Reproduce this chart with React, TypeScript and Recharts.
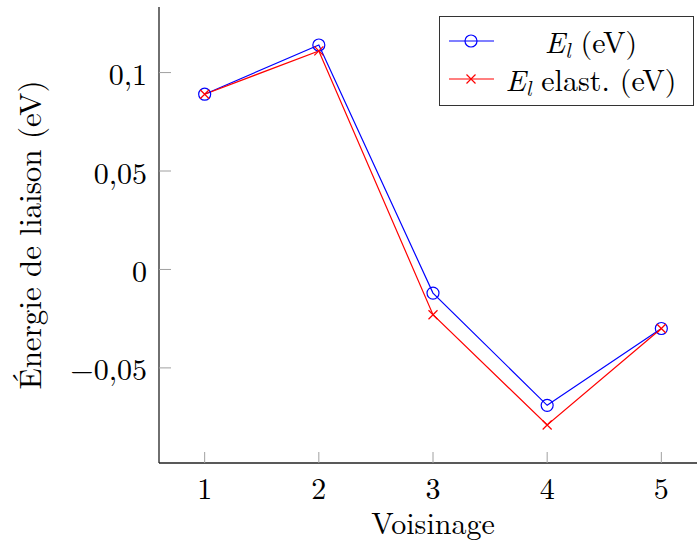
import { LineChart, Line, XAxis, YAxis } from 'recharts';

const voisinage = [1, 2, 3, 4, 5];
const el = [0.089, 0.114, -0.012, -0.069, -0.030];
const elElast = [0.089, 0.111, -0.023, -0.079, -0.030];
const xTicks = [1, 2, 3, 4, 5];
const yTicks = [-0.05, 0, 0.05, 0.1];

const data = voisinage.map((v, i) => ({ v, el: el[i], elElast: elElast[i] }));

// pgfplots-like "enlarge limits" of 10% of the data range
const enlarge = (vals: number[]): [number, number] => {
    const lo = Math.min(...vals);
    const hi = Math.max(...vals);
    const pad = (hi - lo) * 0.1;
    return [lo - pad, hi + pad];
};
const xDomain = enlarge(voisinage);
const yDomain = enlarge([...el, ...elElast]);

const FONT = "'Latin Modern Roman', 'Liberation Serif', serif";
const TICK_GRAY = '#a0a0a0';
const AXIS = '#222';

const fmtY = (v: number) =>
    v === 0 ? '0' : (v < 0 ? '\u2212' : '') + String(Math.abs(v)).replace('.', ',');

const BottomTick = (props: any) => {
    const { x, y, payload } = props;
    return (
        <g>
            <line x1={x} y1={y} x2={x} y2={y - 11} stroke={TICK_GRAY} strokeWidth={1} />
            <text x={x} y={y + 23} textAnchor="middle" dominantBaseline="central" fontFamily={FONT} fontSize={30} fill="#000">
                {payload.value}
            </text>
        </g>
    );
};

const TopTick = (props: any) => {
    const { x, y } = props;
    return <line x1={x} y1={y} x2={x} y2={y + 11} stroke={TICK_GRAY} strokeWidth={1} />;
};

const LeftTick = (props: any) => {
    const { x, y, payload } = props;
    return (
        <g>
            <line x1={x} y1={y} x2={x + 12} y2={y} stroke={TICK_GRAY} strokeWidth={1} />
            <text x={x - 12} y={y} textAnchor="end" dominantBaseline="central" fontFamily={FONT} fontSize={30} fill="#000">
                {fmtY(payload.value)}
            </text>
        </g>
    );
};

const RightTick = (props: any) => {
    const { x, y } = props;
    return <line x1={x} y1={y} x2={x - 12} y2={y} stroke={TICK_GRAY} strokeWidth={1} />;
};

const CircleDot = (props: any) => {
    const { cx, cy, index } = props;
    return <circle key={`c-${index}`} cx={cx} cy={cy} r={6} fill="none" stroke="#0000ff" strokeWidth={1.2} />;
};

const CrossDot = (props: any) => {
    const { cx, cy, index } = props;
    const s = 4.5;
    return (
        <path
            key={`x-${index}`}
            d={`M${cx - s},${cy - s}L${cx + s},${cy + s}M${cx - s},${cy + s}L${cx + s},${cy - s}`}
            stroke="#ff0000"
            strokeWidth={1.2}
            fill="none"
        />
    );
};

const El = () => (
    <>
        <i>E</i>
        <sub style={{ fontSize: '0.7em', fontStyle: 'italic', verticalAlign: '-0.25em', lineHeight: 0 }}>l</sub>
    </>
);

const legendItems = [
    { key: 'el', color: '#0000ff', marker: 'circle', label: <><El /> (eV)</> },
    { key: 'elElast', color: '#ff0000', marker: 'cross', label: <><El /> elast. (eV)</> },
];

const LegendBox = () => (
    <div
        style={{
            position: 'absolute',
            left: 439,
            top: 16,
            width: 255,
            height: 90,
            boxSizing: 'border-box',
            border: '1.3px solid #333',
            background: '#fff',
            fontFamily: FONT,
            fontSize: 30,
            paddingTop: 5,
        }}
    >
        {legendItems.map((it) => (
            <div key={it.key} style={{ display: 'flex', alignItems: 'center', height: 38 }}>
                <svg width={56} height={38} style={{ flex: 'none' }}>
                    <line x1={9} y1={19} x2={54} y2={19} stroke={it.color} strokeWidth={1.2} />
                    {it.marker === 'circle' ? (
                        <circle cx={31} cy={19} r={6} fill="none" stroke={it.color} strokeWidth={1.2} />
                    ) : (
                        <path d="M26.5,14.5L35.5,23.5M26.5,23.5L35.5,14.5" stroke={it.color} strokeWidth={1.2} />
                    )}
                </svg>
                <div style={{ width: 190, textAlign: 'center', whiteSpace: 'nowrap', lineHeight: '34px' }}>{it.label}</div>
            </div>
        ))}
    </div>
);

export default function App() {
    return (
        <div style={{ position: 'absolute', left: 0, top: 0, width: 697, height: 549, overflow: 'hidden', background: '#fff' }}>
            <LineChart width={720} height={549} data={data} margin={{ top: 7, right: 13, bottom: 0, left: 0 }}>
                <XAxis
                    dataKey="v"
                    type="number"
                    domain={xDomain}
                    allowDataOverflow
                    ticks={xTicks}
                    height={86}
                    tickLine={false}
                    tickSize={0}
                    tickMargin={0}
                    axisLine={{ stroke: AXIS, strokeWidth: 1.3 }}
                    tick={BottomTick}
                    interval={0}
                    label={{
                        value: 'Voisinage',
                        position: 'insideTop',
                        offset: 0,
                        content: ({ viewBox }: any) => (
                            <text x={viewBox.x + viewBox.width / 2} y={viewBox.y + 71} textAnchor="middle" fontFamily={FONT} fontSize={30} fill="#000">
                                Voisinage
                            </text>
                        ),
                    }}
                />
                <XAxis
                    xAxisId="top"
                    dataKey="v"
                    type="number"
                    orientation="top"
                    domain={xDomain}
                    allowDataOverflow
                    ticks={xTicks}
                    height={0}
                    tickLine={false}
                    tickSize={0}
                    tickMargin={0}
                    axisLine={{ stroke: AXIS, strokeWidth: 1.3 }}
                    tick={TopTick}
                    interval={0}
                />
                <YAxis
                    yAxisId="left"
                    type="number"
                    domain={yDomain}
                    allowDataOverflow
                    ticks={yTicks}
                    width={159}
                    tickLine={false}
                    tickSize={0}
                    tickMargin={0}
                    axisLine={{ stroke: AXIS, strokeWidth: 1.3 }}
                    tick={LeftTick}
                    interval={0}
                    label={{
                        value: 'Énergie de liaison (eV)',
                        position: 'insideLeft',
                        content: ({ viewBox }: any) => {
                            const cx = viewBox.x + 28;
                            const cy = viewBox.y + viewBox.height / 2;
                            return (
                                <text
                                    x={cx}
                                    y={cy}
                                    transform={`rotate(-90 ${cx} ${cy})`}
                                    textAnchor="middle"
                                    dominantBaseline="central"
                                    fontFamily={FONT}
                                    fontSize={31}
                                    fill="#000"
                                >
                                    Énergie de liaison (eV)
                                </text>
                            );
                        },
                    }}
                />
                <YAxis
                    yAxisId="right"
                    type="number"
                    orientation="right"
                    domain={yDomain}
                    allowDataOverflow
                    ticks={yTicks}
                    width={0}
                    tickLine={false}
                    tickSize={0}
                    tickMargin={0}
                    axisLine={{ stroke: AXIS, strokeWidth: 1.3 }}
                    tick={RightTick}
                    interval={0}
                />
                <Line
                    yAxisId="left"
                    dataKey="el"
                    type="linear"
                    stroke="#0000ff"
                    strokeWidth={1.2}
                    dot={CircleDot}
                    activeDot={false}
                    isAnimationActive={false}
                />
                <Line
                    yAxisId="left"
                    dataKey="elElast"
                    type="linear"
                    stroke="#ff0000"
                    strokeWidth={1.2}
                    dot={CrossDot}
                    activeDot={false}
                    isAnimationActive={false}
                />
            </LineChart>
            <LegendBox />
        </div>
    );
}
